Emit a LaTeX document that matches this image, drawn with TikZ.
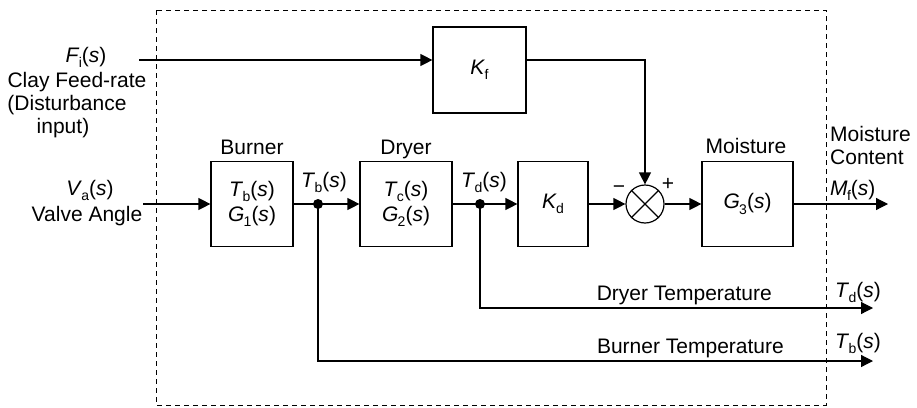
\documentclass[tikz,border=0pt]{standalone}
\usepackage{fontspec}
\setmainfont{Liberation Sans}
\usetikzlibrary{arrows.meta}
\newcommand{\sg}[2]{\textit{#1}\kern-0.03em\raisebox{-0.25em}{\fontsize{14}{14}\selectfont #2}}
\newcommand{\ofs}{(\textit{s})}
\begin{document}
\begin{tikzpicture}[x=1pt,y=-1pt,font=\fontsize{21}{25}\selectfont,
  blk/.style={draw,line width=1.2pt,inner sep=0pt,align=center},
  wire/.style={line width=1.2pt},
  arr/.style={wire,-{Triangle[length=12pt,width=12pt]}},
  sumc/.style={draw,circle,minimum size=38pt,inner sep=0pt,line width=1.2pt},
  lbl/.style={anchor=base,inner sep=0pt},
  dot/.style={circle,fill,inner sep=0pt,minimum size=10pt}]
\useasboundingbox (0,0) rectangle (917,407);
% dashed boundary
\draw[line width=0.9pt,dash pattern=on 5pt off 4pt] (156,10) rectangle (826,405);
% blocks
\node[blk,minimum width=82pt,minimum height=85pt] (burner) at (252,204) {\sg{T}{b}\ofs\\\sg{G}{1}\ofs};
\node[blk,minimum width=92pt,minimum height=85pt] (dryer) at (406,204) {\sg{T}{c}\ofs\\\sg{G}{2}\ofs};
\node[blk,minimum width=70pt,minimum height=85pt] (kd) at (553,204) {\sg{K}{d}};
\node[blk,minimum width=91pt,minimum height=85pt] (g3) at (747.5,204) {\sg{G}{3}\ofs};
\node[blk,minimum width=93pt,minimum height=86pt] (kf) at (479.5,70) {\sg{K}{f}};
\node[sumc] (sum) at (645,204) {};
\draw[wire] (sum.north west) -- (sum.south east) (sum.north east) -- (sum.south west);
% junctions and ends
\node[dot] (jb) at (318,204) {};
\node[dot] (jd) at (480,204) {};
\coordinate (va) at (143,204);
\coordinate (fi) at (139,60);
\coordinate (mf) at (888,204);
\coordinate (tdo) at (873,308);
\coordinate (tbo) at (873,361);
% connectors
\draw[arr] (va) -- (burner.west);
\draw[wire] (burner.east) -- (jb.center);
\draw[arr] (jb.center) -- (dryer.west);
\draw[wire] (dryer.east) -- (jd.center);
\draw[arr] (jd.center) -- (kd.west);
\draw[arr] (kd.east) -- (sum.west);
\draw[arr] (sum.east) -- (g3.west);
\draw[arr] (g3.east) -- (mf);
\draw[arr] (fi) -- (fi -| kf.west);
\draw[arr] (kf.east |- fi) -| (sum.north);
\draw[arr] (jd.center) |- (tdo);
\draw[arr] (jb.center) |- (tbo);
% labels
\node[lbl] (t1) at (86,62) {\sg{F}{i}\ofs};
\node[lbl] (t2) at (77,87) {Clay Feed-rate};
\node[lbl] (t3) at (67,110) {(Disturbance};
\node[lbl] (t4) at (63,133) {input)};
\node[lbl] (t5) at (90,195) {\sg{V}{a}\ofs};
\node[lbl] (t6) at (87,221) {Valve Angle};
\node[lbl] (t7) at (252,154) {Burner};
\node[lbl] (t8) at (406,154) {Dryer};
\node[lbl] (t9) at (746,153) {Moisture};
\node[lbl] (t10) at (324,187) {\sg{T}{b}\ofs};
\node[lbl] (t11) at (484,187) {\sg{T}{d}\ofs};
\node[lbl] (t12) at (619,193) {−};
\node[lbl] (t13) at (668,190) {+};
\node[lbl,anchor=base west] (t14) at (830,141) {Moisture};
\node[lbl,anchor=base west] (t15) at (830,164) {Content};
\node[lbl,anchor=base west] (t16) at (830,195) {\sg{M}{f}\ofs};
\node[lbl,anchor=base west] (t17) at (835,297) {\sg{T}{d}\ofs};
\node[lbl,anchor=base west] (t18) at (835,348) {\sg{T}{b}\ofs};
\node[lbl,anchor=base east] (t19) at (772,300) {Dryer Temperature};
\node[lbl,anchor=base east] (t20) at (784,353) {Burner Temperature};
\end{tikzpicture}
\end{document}
